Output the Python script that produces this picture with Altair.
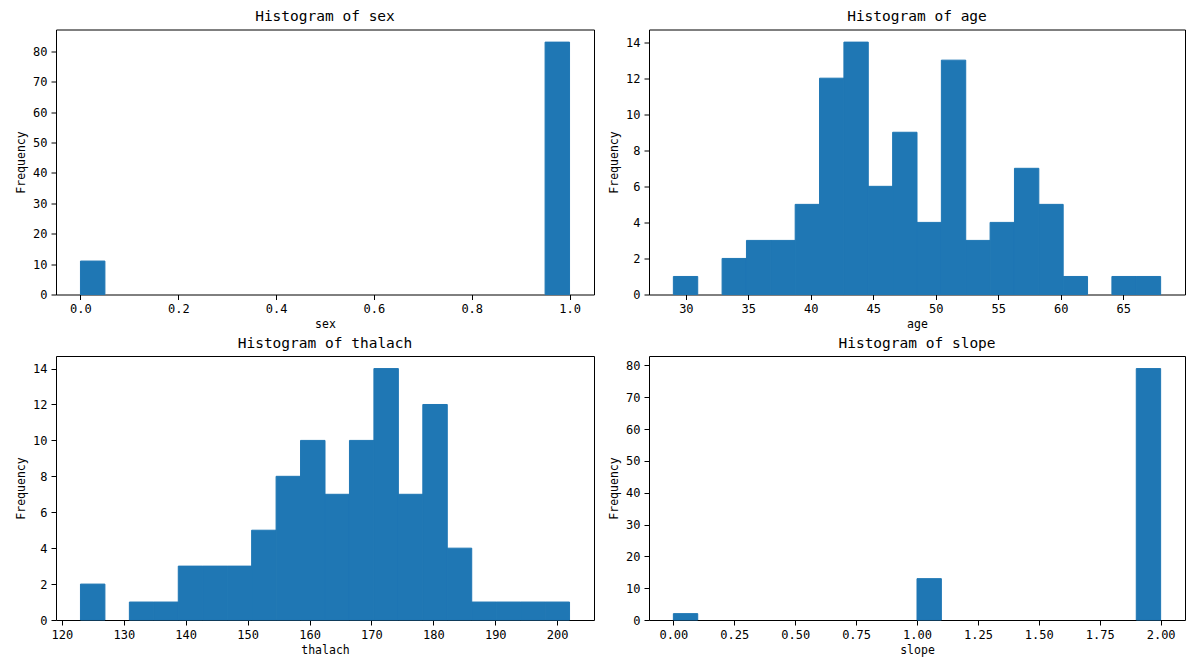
import altair as alt
import numpy as np
import pandas as pd

FONT = "DejaVu Sans Mono"
BLUE = "#1f77b4"

# histogram counts (20 bins each)
sex_range = (0, 1)
sex_counts = [11, 0, 0, 0, 0, 0, 0, 0, 0, 0, 0, 0, 0, 0, 0, 0, 0, 0, 0, 83]
age_range = (29, 68)
age_counts = [1, 0, 2, 3, 3, 5, 12, 14, 6, 9, 4, 13, 3, 4, 7, 5, 1, 0, 1, 1]
thalach_range = (123, 202)
thalach_counts = [2, 0, 1, 1, 3, 3, 3, 5, 8, 10, 7, 10, 14, 7, 12, 4, 1, 1, 1, 1]
slope_range = (0, 2)
slope_counts = [2, 0, 0, 0, 0, 0, 0, 0, 0, 0, 13, 0, 0, 0, 0, 0, 0, 0, 0, 79]

sex_xticks = [0.0, 0.2, 0.4, 0.6, 0.8, 1.0]
age_xticks = [30, 35, 40, 45, 50, 55, 60, 65]
thalach_xticks = [120, 130, 140, 150, 160, 170, 180, 190, 200]
slope_xticks = [0.0, 0.25, 0.5, 0.75, 1.0, 1.25, 1.5, 1.75, 2.0]
yticks_80 = [0, 10, 20, 30, 40, 50, 60, 70, 80]
yticks_14 = [0, 2, 4, 6, 8, 10, 12, 14]


def panel(name, rng, counts, xticks, fmt, yticks, w, h):
    lo, hi = rng
    edges = np.linspace(lo, hi, len(counts) + 1)
    df = pd.DataFrame({"start": edges[:-1], "end": edges[1:],
                       "count": counts, "base": [0] * len(counts)})
    m = (hi - lo) * 0.05
    ymax = max(counts) * 1.05
    return alt.Chart(df).transform_filter("datum.count > 0").mark_rect(
        color=BLUE, stroke=BLUE, strokeWidth=1
    ).encode(
        x=alt.X("start:Q",
                scale=alt.Scale(domain=[lo - m, hi + m], nice=False, zero=False),
                axis=alt.Axis(values=xticks, format=fmt, title=name)),
        x2="end:Q",
        y=alt.Y("count:Q",
                scale=alt.Scale(domain=[0, ymax], nice=False, zero=True),
                axis=alt.Axis(values=yticks, format="d", title="Frequency")),
        y2="base:Q",
    ).properties(width=w, height=h, title=f"Histogram of {name}")


p1 = panel("sex", sex_range, sex_counts, sex_xticks, ".1f", yticks_80, 538, 265)
p2 = panel("age", age_range, age_counts, age_xticks, "d", yticks_14, 536, 265)
p3 = panel("thalach", thalach_range, thalach_counts, thalach_xticks, "d", yticks_14, 538, 264)
p4 = panel("slope", slope_range, slope_counts, slope_xticks, ".2f", yticks_80, 536, 264)

chart = alt.concat(p1, p2, p3, p4, columns=2,
                   spacing={"row": 61.5, "column": 55}, bounds="flush").properties(
    padding={"left": 7, "top": 0.5, "right": 5, "bottom": 5}
).configure_view(
    stroke="black", strokeWidth=1
).configure_axis(
    labelFont=FONT, labelFontSize=12, labelColor="black",
    titleFont=FONT, titleFontSize=11.5, titleColor="black", titleFontWeight="normal",
    tickColor="black", tickSize=5, tickWidth=1, domain=False, grid=False,
    labelPadding=4,
).configure_axisY(titlePadding=6).configure_axisX(titlePadding=4).configure_title(
    font=FONT, fontSize=14.5, fontWeight="normal", color="black", offset=5, anchor="middle"
)

chart.save("out.html", embed_options={"renderer": "svg", "actions": False})
